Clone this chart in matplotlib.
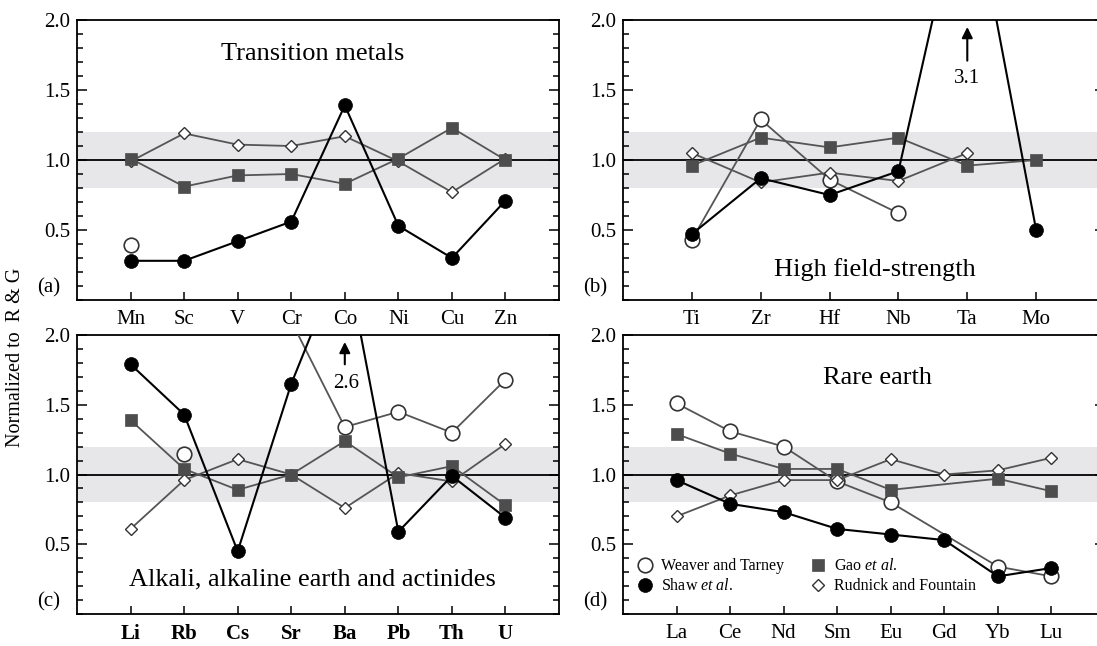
import numpy as np
import matplotlib
matplotlib.use("Agg")
import matplotlib.pyplot as plt
from matplotlib.lines import Line2D
from matplotlib.ticker import MultipleLocator, FormatStrFormatter

plt.rcParams['font.family'] = ['Liberation Serif', 'DejaVu Serif']
plt.rcParams['mathtext.fontset'] = 'custom'
plt.rcParams['mathtext.rm'] = 'Liberation Serif'
plt.rcParams['mathtext.it'] = 'Liberation Serif:italic'

nan = np.nan

# (a) transition metals
tm_elems = ["Mn", "Sc", "V", "Cr", "Co", "Ni", "Cu", "Zn"]
tm_weaver = [0.39, nan, nan, nan, nan, nan, nan, nan]
tm_shaw = [0.28, 0.28, 0.42, 0.56, 1.39, 0.53, 0.30, 0.71]
tm_gao = [1.01, 0.81, 0.89, 0.90, 0.83, 1.01, 1.23, 1.00]
tm_rudnick = [0.99, 1.19, 1.11, 1.10, 1.17, 0.99, 0.77, 1.01]

# (b) high field-strength
hf_elems = ["Ti", "Zr", "Hf", "Nb", "Ta", "Mo"]
hf_weaver = [0.43, 1.29, 0.86, 0.62, nan, nan]
hf_shaw = [0.47, 0.87, 0.75, 0.92, 3.1, 0.50]
hf_gao = [0.96, 1.16, 1.09, 1.16, 0.96, 1.00]
hf_rudnick = [1.05, 0.84, 0.91, 0.85, 1.05, nan]

# (c) alkali, alkaline earth and actinides
aa_elems = ["Li", "Rb", "Cs", "Sr", "Ba", "Pb", "Th", "U"]
aa_weaver = [nan, 1.15, nan, 2.1, 1.34, 1.45, 1.30, 1.68]
aa_shaw = [1.79, 1.43, 0.45, 1.65, 2.6, 0.59, 0.99, 0.69]
aa_gao = [1.39, 1.04, 0.89, 1.00, 1.24, 0.98, 1.06, 0.78]
aa_rudnick = [0.61, 0.96, 1.11, 1.00, 0.76, 1.01, 0.95, 1.22]

# (d) rare earth
ree_elems = ["La", "Ce", "Nd", "Sm", "Eu", "Gd", "Yb", "Lu"]
ree_weaver = [1.51, 1.31, 1.20, 0.95, 0.80, nan, 0.34, 0.27]
ree_shaw = [0.96, 0.79, 0.73, 0.61, 0.57, 0.53, 0.27, 0.33]
ree_gao = [1.29, 1.15, 1.04, 1.04, 0.89, nan, 0.97, 0.88]
ree_rudnick = [0.70, 0.85, 0.96, 0.96, 1.11, 1.00, 1.03, 1.12]

series_names = ["Weaver and Tarney", r"Shaw $\mathit{et\ al.}$",
                r"Gao $\mathit{et\ al.}$", "Rudnick and Fountain"]

LINE_GREY = "#555555"
styles = {
    "weaver": dict(marker="o", ms=10.5, mfc="white", mec="#333333", mew=1.2,
                   color=LINE_GREY, lw=1.3, zorder=3),
    "rudnick": dict(marker="D", ms=6.5, mfc="white", mec="#333333", mew=1.0,
                    color=LINE_GREY, lw=1.3, zorder=4),
    "gao": dict(marker="s", ms=9, mfc="#4d4d4d", mec="#4d4d4d", mew=0.5,
                color=LINE_GREY, lw=1.3, zorder=5),
    "shaw": dict(marker="o", ms=10, mfc="black", mec="black", mew=0.5,
                 color="black", lw=1.5, zorder=6),
}


def plot_series(ax, y, style, bridge):
    x = np.arange(1, len(y) + 1)
    y = np.asarray(y, dtype=float)
    if bridge:
        # join points across missing elements
        keep = ~np.isnan(y)
        ax.plot(x[keep], y[keep], **styles[style])
    else:
        ax.plot(x, y, **styles[style])


def setup_axes(ax, elems, label, bold=False):
    n = len(elems)
    ax.set_xlim(0, n + 1)
    ax.set_ylim(0, 2.0)
    ax.axhspan(0.8, 1.2, color="#e7e7e9", lw=0, zorder=0)
    ax.axhline(1.0, color="black", lw=1.3, zorder=1)
    ax.set_xticks(np.arange(1, n + 1))
    ax.set_xticklabels(elems, fontweight="bold" if bold else "normal")
    ax.set_yticks([0.5, 1.0, 1.5, 2.0])
    ax.yaxis.set_minor_locator(MultipleLocator(0.1))
    ax.yaxis.set_major_formatter(FormatStrFormatter("%.1f"))
    ax.tick_params(axis="y", which="both", direction="in", left=True, right=True,
                   labelsize=15, pad=5, width=1.1)
    ax.tick_params(axis="y", which="major", length=7)
    ax.tick_params(axis="y", which="minor", length=4)
    ax.tick_params(axis="x", direction="in", length=6, width=1.1, labelsize=15, pad=7)
    for sp in ax.spines.values():
        sp.set_linewidth(1.3)
    ax.text(-0.058, 0.085, label, transform=ax.get_yaxis_transform(),
            ha="center", va="center", fontsize=15)


fig = plt.figure(figsize=(10.97, 6.46), dpi=100)
ax_a = fig.add_axes([0.0702, 0.5356, 0.4394, 0.4334])
ax_b = fig.add_axes([0.5679, 0.5356, 0.4394, 0.4334])
ax_c = fig.add_axes([0.0702, 0.0495, 0.4394, 0.4319])
ax_d = fig.add_axes([0.5679, 0.0495, 0.4394, 0.4319])

panels = [
    (ax_a, tm_elems, (tm_weaver, tm_shaw, tm_gao, tm_rudnick), "(a)", False, False),
    (ax_b, hf_elems, (hf_weaver, hf_shaw, hf_gao, hf_rudnick), "(b)", False, False),
    (ax_c, aa_elems, (aa_weaver, aa_shaw, aa_gao, aa_rudnick), "(c)", True, False),
    (ax_d, ree_elems, (ree_weaver, ree_shaw, ree_gao, ree_rudnick), "(d)", False, True),
]

for ax, elems, (w, s, g, r), lab, bold, bridge in panels:
    setup_axes(ax, elems, lab, bold)
    plot_series(ax, w, "weaver", bridge)
    plot_series(ax, r, "rudnick", bridge)
    plot_series(ax, g, "gao", bridge)
    plot_series(ax, s, "shaw", bridge)

# panel titles
ax_a.text(4.4, 1.76, "Transition metals", ha="center", va="center", fontsize=19)
ax_b.text(3.66, 0.22, "High field-strength", ha="center", va="center", fontsize=19)
ax_c.text(4.4, 0.25, "Alkali, alkaline earth and actinides", ha="center", va="center", fontsize=19)
ax_d.text(4.75, 1.69, "Rare earth", ha="center", va="center", fontsize=19)

# off-scale values
ta = hf_elems.index("Ta") + 1
ax_b.annotate("", xy=(ta, 1.97), xytext=(ta, 1.69),
              arrowprops=dict(arrowstyle="-|>", color="black", lw=1.5, mutation_scale=16))
ax_b.text(ta, 1.58, "%.1f" % hf_shaw[ta - 1], ha="center", va="center", fontsize=15)
ba = aa_elems.index("Ba") + 1
ax_c.annotate("", xy=(ba, 1.97), xytext=(ba, 1.77),
              arrowprops=dict(arrowstyle="-|>", color="black", lw=1.5, mutation_scale=16))
ax_c.text(ba + 0.02, 1.65, "%.1f" % aa_shaw[ba - 1], ha="center", va="center", fontsize=15)

handles = [
    Line2D([], [], ls="none", **{k: v for k, v in styles[key].items() if k not in ("color", "lw", "zorder")})
    for key in ("weaver", "shaw", "gao", "rudnick")
]
ax_d.legend(handles, series_names, ncol=2, loc="upper left", bbox_to_anchor=(0.01, 0.228),
            frameon=False, fontsize=11.5, handletextpad=0.4, columnspacing=1.5,
            labelspacing=0.25, borderpad=0, handlelength=1.2)

fig.text(0.014, 0.447, "Normalized to  R & G", rotation=90, ha="center", va="center", fontsize=14.5)

fig.savefig("out.png", dpi=100)
